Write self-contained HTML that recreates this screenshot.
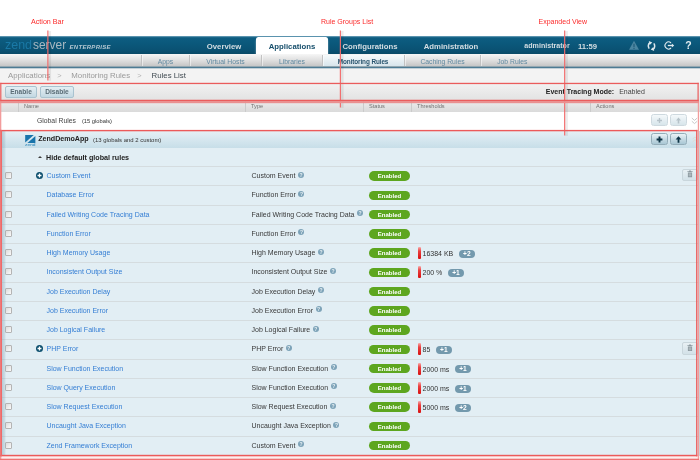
<!DOCTYPE html>
<html lang="en"><head><meta charset="utf-8"><title>Zend Server - Monitoring Rules</title>
<style>
*{box-sizing:border-box;margin:0;padding:0}
html,body{width:700px;height:460px;overflow:hidden;background:#fff}
body{position:relative;font-family:"Liberation Sans",sans-serif;font-size:7px;color:#333;-webkit-font-smoothing:antialiased}
.abs{position:absolute}
.ann{position:absolute;color:#fb2a2a;font-size:7px;top:17.6px;white-space:nowrap;line-height:8px}
.vl{position:absolute;width:1.2px;background:#f36e6e;box-shadow:1.5px 0 1px rgba(200,200,200,.35)}
#hdr{position:absolute;left:0;top:36px;width:700px;height:18.5px;background:linear-gradient(#5a93ae 0,#5a93ae 1px,#0e5d81 1.6px,#0b587b 40%,#0a5172 75%,#094864)}
#logo{position:absolute;left:5px;top:37px;height:16px;line-height:16px;white-space:nowrap}
#logo .z{font-size:13.4px;color:#1a79a6;display:inline-block;transform:scaleX(.93);transform-origin:0 50%;width:26.8px}
#logo .s{font-size:13.4px;color:#a9b9c2;display:inline-block;transform:scaleX(.89);transform-origin:0 50%;width:36.5px;margin-left:1.5px}
#logo .e{font-size:6px;color:#b3c7d2;font-style:italic;font-weight:bold;letter-spacing:0.3px;position:absolute;left:64.5px;top:1.5px}
.tab{position:absolute;top:38px;height:16.5px;line-height:16px;font-size:7.75px;font-weight:bold;color:#d3dde2;text-align:center;white-space:nowrap;line-height:17.6px}
.tab.act{background:#fff;color:#164e6b;border-radius:2.5px 2.5px 0 0;top:37px;height:17.5px;line-height:19.4px;box-shadow:0 2px 2px rgba(255,255,255,.6)}
#sub{position:absolute;left:0;top:54.4px;width:700px;height:12.4px;background:linear-gradient(#f6f6f6,#dedede 50%,#c2c2c2)}
#subl{position:absolute;left:0;top:66px;width:700px;height:3px;background:linear-gradient(#93a7b1 0,#93a7b1 1px,#4d7b93 1px,#4d7b93 2px,#c3d0d7 2px,#c3d0d7 3px);z-index:2}
.sn{position:absolute;top:55px;height:11.6px;line-height:13px;font-size:6.8px;color:#6189a0;text-align:center;white-space:nowrap;border-left:1px solid #c2c2c2;box-shadow:inset 1px 0 0 rgba(255,255,255,.5)}
.sn.act{color:#28546e;font-weight:bold;font-size:6.4px;letter-spacing:-0.1px;text-indent:-1px;background:linear-gradient(#f7fafb,#d5e3ea)}
#bc{position:absolute;left:0;top:68px;width:700px;height:15px;background:#f3f3f3;font-size:7.85px;line-height:15.4px;color:#9a9a9a;white-space:nowrap}
#bc span{position:absolute;top:0}
#act{position:absolute;left:0;top:83px;width:700px;height:18px;background:linear-gradient(#f2f2f2,#e2e2e2)}
.btn{position:absolute;top:86px;height:11.6px;line-height:10.4px;border:1px solid #a9c3d0;border-radius:2px;background:linear-gradient(#e4eff4,#c3d8e2);font-size:6.6px;font-weight:bold;color:#5a6c76;text-align:center}
#etm{position:absolute;left:545.75px;top:86px;line-height:12px;font-size:7px;color:#444;white-space:nowrap}
#etm b{color:#222;margin-right:3px}
#th{position:absolute;left:0;top:101px;width:700px;height:11px;background:linear-gradient(#ececec,#dadada);font-size:5.6px;color:#727272;line-height:10px}
#th span{position:absolute;top:0;height:11px;border-left:1px solid #cbcbcb;padding-left:5px}
#gr{position:absolute;left:0;top:112px;width:700px;height:18.5px;background:#fff;line-height:18px;font-size:6.8px;color:#444;white-space:nowrap}
#gr small{font-size:5.75px;color:#333;margin-left:6px}
#app{position:absolute;left:0;top:131px;width:700px;height:17px;background:linear-gradient(#e6f0f5,#d6e7ef 50%,#c7dee8);line-height:17px;font-size:7px;color:#222;white-space:nowrap}
#app b{position:absolute;left:38.2px;top:0.4px;font-size:7.1px}
#app small{position:absolute;left:93px;top:0.6px;font-size:5.95px;color:#333}
#hide{position:absolute;left:0;top:148px;width:700px;height:18px;background:#e2eef4;line-height:20.6px;font-size:7.17px;font-weight:bold;color:#222}
.rows{position:absolute;left:0;top:0;width:700px}
.row{position:absolute;left:0;width:700px;background:#e2eef4;border-top:1px solid #d5dcdf;white-space:nowrap}
.row>*{position:absolute}
.cb{left:5px;top:5.2px;width:7.4px;height:7px;border:1px solid #b4b4b4;background:linear-gradient(135deg,#dcdcdc,#fafafa);border-radius:1px}
.plus{left:35.8px;top:5px;width:7px;height:7px;line-height:0}
.nm{left:46.5px;top:0;line-height:18.5px;font-size:7px;color:#347ed4}
.tp{left:251.5px;top:0;line-height:18.5px;font-size:7px;color:#383838}
.q{display:inline-block;width:6px;height:6px;border-radius:3px;background:#7da3b8;color:#eaf2f6;font-size:5px;font-style:normal;font-weight:bold;line-height:6px;text-align:center;margin-left:2.6px;position:relative;top:-1.5px}
.en{left:369px;top:4.3px;width:41px;height:9.6px;border-radius:5px;background:#5da61f;color:#fff;font-size:6px;font-weight:bold;text-align:center;line-height:10.6px}
.bar{left:417.5px;top:3px;width:3px;height:12px;background:linear-gradient(#f6abab,#ec4040 35%,#d81010);border-radius:1px}
.th{left:422.5px;top:0;line-height:19px;font-size:7px;color:#333}
.bd{display:inline-block;margin-left:5.5px;height:7.8px;line-height:7.8px;padding:0 4.3px;border-radius:4px;background:#7399ad;color:#fff;font-size:6.6px;font-weight:bold;position:relative;top:-0.3px;vertical-align:middle}
.trash{left:682px;top:2.2px;width:15.5px;height:12.3px;padding-top:0.3px;border:1px solid #c9d6dc;border-radius:2px;background:linear-gradient(#e8f0f4,#d3e1e8);text-align:center;line-height:9px}
.sbtn{position:absolute;width:17px;height:12px;border:1px solid #94adb9;border-radius:2.5px;background:linear-gradient(#e9f2f6,#c4d9e3 55%,#a9c7d4);text-align:center;line-height:0;padding-top:1.9px}
.rb{position:absolute;border:1px solid #ee4545;pointer-events:none}
</style></head>
<body>
<div class="ann" style="left:31px;font-size:7.15px">Action Bar</div>
<div class="ann" style="left:321px">Rule Groups List</div>
<div class="ann" style="left:538.5px">Expanded View</div>
<div id="hdr"></div>
<div id="logo"><span class="z">zend</span><span class="s">server</span><span class="e">ENTERPRISE</span></div>
<div class="tab" style="left:194px;width:60px">Overview</div>
<div class="tab act" style="left:256px;width:72px">Applications</div>
<div class="tab" style="left:330px;width:80px">Configurations</div>
<div class="tab" style="left:411px;width:80px">Administration</div>
<div class="tab" style="left:517px;width:60px;font-size:7.1px;top:37.5px">administrator</div>
<div class="tab" style="left:573.5px;width:28px;font-size:7.7px;top:37.5px">11:59</div>
<div class="abs" style="left:628px;top:40px;line-height:0"><svg width="12" height="11" viewBox="0 0 12 11"><path d="M6 0.8L11 9.8H1Z" fill="#4a85a0"/><path d="M6 3.8v3.4M6 8v1" stroke="#1d5876" stroke-width="1.1"/></svg></div>
<div class="abs" style="left:646px;top:40.5px;line-height:0"><svg width="11" height="10" viewBox="0 0 11 10"><g fill="none" stroke="#dde8ed" stroke-width="1.55"><path d="M3.9 1.7C2.2 2.6 1.7 5.6 3.2 7.6"/><path d="M7.1 8.3C8.8 7.4 9.3 4.4 7.8 2.4"/></g><path d="M2.8 0.1L6.3 1.5L3.7 3.9Z M8.2 9.9L4.7 8.5L7.3 6.1Z" fill="#dde8ed"/></svg></div>
<div class="abs" style="left:663px;top:40px;line-height:0"><svg width="12" height="11" viewBox="0 0 12 11" fill="none" stroke="#e2ebef" stroke-width="1.1"><path d="M8 3A3.5 3.5 0 1 0 8 8"/><path d="M4.8 5.5h5" stroke-width="1.3"/><path d="M8.8 3.6L11.2 5.5L8.8 7.4Z" fill="#e2ebef" stroke="none"/></svg></div>
<div class="abs" style="left:685.2px;top:38.3px;font-size:10.5px;line-height:14px;color:#e4edf1;font-weight:bold">?</div>
<div id="sub"></div><div id="subl"></div>
<div class="sn" style="left:141px;width:48px">Apps</div>
<div class="sn" style="left:189px;width:72px">Virtual Hosts</div>
<div class="sn" style="left:261px;width:61px">Libraries</div>
<div class="sn act" style="left:322px;width:82px">Monitoring Rules</div>
<div class="sn" style="left:404px;width:76px">Caching Rules</div>
<div class="sn" style="left:480px;width:62px;text-align:left;padding-left:16.2px">Job Rules</div>
<div id="bc"><span style="left:8px">Applications</span><span style="left:57.3px;color:#b2b2b2;font-size:7.4px">&gt;</span><span style="left:71.3px">Monitoring Rules</span><span style="left:137.3px;color:#b2b2b2;font-size:7.4px">&gt;</span><span style="left:151.5px;color:#414b52">Rules List</span></div>
<div id="act"></div>
<div class="btn" style="left:5px;width:32px">Enable</div>
<div class="btn" style="left:40px;width:34px">Disable</div>
<div id="etm"><b>Event Tracing Mode:</b> Enabled</div>
<div id="th"><span style="left:18px">Name</span><span style="left:245px">Type</span><span style="left:363px">Status</span><span style="left:411px">Thresholds</span><span style="left:590px">Actions</span></div>
<div id="gr"><span class="abs" style="left:37px;top:0">Global Rules<small>(15 globals)</small></span></div>
<div class="sbtn" style="left:651px;top:114.2px;opacity:.45"><svg width="7" height="7" viewBox="0 0 7 7"><path d="M3.5 1v5M1 3.5h5" stroke="#5e7a88" stroke-width="1.4"/></svg></div>
<div class="sbtn" style="left:670px;top:114.2px;opacity:.45"><svg width="7" height="7" viewBox="0 0 7 7"><path d="M3.5 0.6L6 3.4H4.3V6.4H2.7V3.4H1Z" fill="#5e7a88"/></svg></div>
<div class="abs" style="left:691px;top:117px;line-height:0"><svg width="7" height="8" viewBox="0 0 7 8" fill="none" stroke="#c9c9c9" stroke-width="1"><path d="M0.8 1l2.7 2.4L6.2 1M0.8 4.2l2.7 2.4 2.7-2.4"/></svg></div>
<div id="app"><b>ZendDemoApp</b><small>(13 globals and 2 custom)</small></div>
<div class="abs" style="left:24.8px;top:134.6px;line-height:0"><svg width="11" height="12" viewBox="0 0 11 12"><path d="M0.2 0H8.8L0.2 7.6Z" fill="#1874ab"/><path d="M10.4 1V8H2.4Z" fill="#1874ab"/><text x="0" y="11.2" font-family="Liberation Sans, sans-serif" font-size="4.4" fill="#2a86bb" textLength="10.6" lengthAdjust="spacingAndGlyphs">zend</text></svg></div>
<div class="sbtn" style="left:651px;top:132.8px"><svg width="7" height="7" viewBox="0 0 7 7"><path d="M3.5 0.6v5.8M0.6 3.5h5.8" stroke="#0e3446" stroke-width="1.9"/></svg></div>
<div class="sbtn" style="left:670px;top:132.8px"><svg width="7" height="7" viewBox="0 0 7 7"><path d="M3.5 0.2L6.4 3.4H4.4V6.8H2.6V3.4H0.6Z" fill="#0e3446"/></svg></div>
<div id="hide"><span class="abs" style="left:38.1px;top:8.3px;width:0;height:0;border-left:2px solid transparent;border-right:2px solid transparent;border-bottom:2.8px solid #3a3a3a"></span><span class="abs" style="left:46px;top:0">Hide default global rules</span></div>

<div class="rows">
<div class="row" style="top:166.00px;height:19.25px"><span class="cb"></span><span class="plus"><svg viewBox="0 0 10 10" width="7" height="7"><circle cx="5" cy="5" r="5" fill="#0c4f6e"/><path d="M5 2.2v5.6M2.2 5h5.6" stroke="#fff" stroke-width="1.8"/></svg></span><a class="nm">Custom Event</a><span class="tp">Custom Event<i class="q">?</i></span><span class="en">Enabled</span><span class="trash"><svg viewBox="0 0 8 9" width="6" height="7.6" preserveAspectRatio="none"><path d="M0.5 1.5h7v1h-7zM2.8 0.5h2.4v1h-2.4zM1.2 3h5.6v5.5h-5.6z" fill="#8a979e"/><path d="M2.8 4v3.5M4 4v3.5M5.2 4v3.5" stroke="#dfe8ec" stroke-width="0.5"/></svg></span></div>
<div class="row" style="top:185.25px;height:19.25px"><span class="cb"></span><a class="nm">Database Error</a><span class="tp">Function Error<i class="q">?</i></span><span class="en">Enabled</span></div>
<div class="row" style="top:204.50px;height:19.25px"><span class="cb"></span><a class="nm">Failed Writing Code Tracing Data</a><span class="tp">Failed Writing Code Tracing Data<i class="q">?</i></span><span class="en">Enabled</span></div>
<div class="row" style="top:223.75px;height:19.25px"><span class="cb"></span><a class="nm">Function Error</a><span class="tp">Function Error<i class="q">?</i></span><span class="en">Enabled</span></div>
<div class="row" style="top:243.00px;height:19.25px"><span class="cb"></span><a class="nm">High Memory Usage</a><span class="tp">High Memory Usage<i class="q">?</i></span><span class="en">Enabled</span><span class="bar"></span><span class="th">16384 KB<b class="bd">+2</b></span></div>
<div class="row" style="top:262.25px;height:19.25px"><span class="cb"></span><a class="nm">Inconsistent Output Size</a><span class="tp">Inconsistent Output Size<i class="q">?</i></span><span class="en">Enabled</span><span class="bar"></span><span class="th">200 %<b class="bd">+1</b></span></div>
<div class="row" style="top:281.50px;height:19.25px"><span class="cb"></span><a class="nm">Job Execution Delay</a><span class="tp">Job Execution Delay<i class="q">?</i></span><span class="en">Enabled</span></div>
<div class="row" style="top:300.75px;height:19.25px"><span class="cb"></span><a class="nm">Job Execution Error</a><span class="tp">Job Execution Error<i class="q">?</i></span><span class="en">Enabled</span></div>
<div class="row" style="top:320.00px;height:19.25px"><span class="cb"></span><a class="nm">Job Logical Failure</a><span class="tp">Job Logical Failure<i class="q">?</i></span><span class="en">Enabled</span></div>
<div class="row" style="top:339.25px;height:19.25px"><span class="cb"></span><span class="plus"><svg viewBox="0 0 10 10" width="7" height="7"><circle cx="5" cy="5" r="5" fill="#0c4f6e"/><path d="M5 2.2v5.6M2.2 5h5.6" stroke="#fff" stroke-width="1.8"/></svg></span><a class="nm">PHP Error</a><span class="tp">PHP Error<i class="q">?</i></span><span class="en">Enabled</span><span class="bar"></span><span class="th">85<b class="bd">+1</b></span><span class="trash"><svg viewBox="0 0 8 9" width="6" height="7.6" preserveAspectRatio="none"><path d="M0.5 1.5h7v1h-7zM2.8 0.5h2.4v1h-2.4zM1.2 3h5.6v5.5h-5.6z" fill="#8a979e"/><path d="M2.8 4v3.5M4 4v3.5M5.2 4v3.5" stroke="#dfe8ec" stroke-width="0.5"/></svg></span></div>
<div class="row" style="top:358.50px;height:19.25px"><span class="cb"></span><a class="nm">Slow Function Execution</a><span class="tp">Slow Function Execution<i class="q">?</i></span><span class="en">Enabled</span><span class="bar"></span><span class="th">2000 ms<b class="bd">+1</b></span></div>
<div class="row" style="top:377.75px;height:19.25px"><span class="cb"></span><a class="nm">Slow Query Execution</a><span class="tp">Slow Function Execution<i class="q">?</i></span><span class="en">Enabled</span><span class="bar"></span><span class="th">2000 ms<b class="bd">+1</b></span></div>
<div class="row" style="top:397.00px;height:19.25px"><span class="cb"></span><a class="nm">Slow Request Execution</a><span class="tp">Slow Request Execution<i class="q">?</i></span><span class="en">Enabled</span><span class="bar"></span><span class="th">5000 ms<b class="bd">+2</b></span></div>
<div class="row" style="top:416.25px;height:19.25px"><span class="cb"></span><a class="nm">Uncaught Java Exception</a><span class="tp">Uncaught Java Exception<i class="q">?</i></span><span class="en">Enabled</span></div>
<div class="row" style="top:435.50px;height:19.25px"><span class="cb"></span><a class="nm">Zend Framework Exception</a><span class="tp">Custom Event<i class="q">?</i></span><span class="en">Enabled</span></div>
</div>
<div class="abs" style="left:0;top:456.3px;width:700px;height:4px;background:#fdeeee"></div>
<div class="abs" style="left:2px;top:131px;width:4px;height:324px;background:linear-gradient(to right,rgba(140,168,182,.5),rgba(140,168,182,.25) 70%,rgba(140,168,182,0))"></div>
<div class="abs" style="left:691.5px;top:136px;line-height:0;opacity:.5"><svg width="6" height="7" viewBox="0 0 7 8" fill="none" stroke="#e8c9b5" stroke-width="1"><path d="M0.8 3.4l2.7-2.4L6.2 3.4M0.8 6.6l2.7-2.4 2.7 2.4"/></svg></div>
<svg class="abs" style="left:0;top:0;pointer-events:none;z-index:5" width="700" height="460" viewBox="0 0 700 460">
<rect x="699.1" y="131" width="0.9" height="325" fill="#c3d3da"/>
<g fill="#000" opacity=".07"><rect x="48.5" y="31" width="2.6" height="49.8"/><rect x="341" y="31" width="2.6" height="76.8"/><rect x="565.3" y="31" width="2.6" height="104.8"/></g>
<g fill="#f26a6a"><rect x="47.3" y="30.5" width="1.15" height="50"/><rect x="339.8" y="30.5" width="1.15" height="77"/><rect x="564.1" y="30.5" width="1.15" height="105"/></g>
<g fill="#f29c9c"><rect x="0" y="101.1" width="1.3" height="358.9"/><rect x="697.8" y="101.1" width="1.3" height="358.9"/></g>
<rect x="0" y="101.1" width="699.1" height="2.1" fill="#ea9090"/>
<rect x="0" y="458.7" width="699.1" height="1.3" fill="#ee7272"/>
<g fill="#ea5c5c"><rect x="0.2" y="82.8" width="698.5" height="1.3"/><rect x="0.2" y="99.75" width="698.5" height="1.35"/><rect x="0.2" y="82.8" width="1.2" height="18.3"/><rect x="697.5" y="82.8" width="1.2" height="18.3"/></g>
<g fill="#ec5a5a"><rect x="0.3" y="129.9" width="697.1" height="1.4"/><rect x="0.3" y="454.8" width="697.1" height="1.5"/><rect x="0.3" y="129.9" width="1.7" height="326.4" fill="#ee6a6a"/><rect x="696.1" y="129.9" width="1.3" height="326.4"/></g>
</svg>

</body></html>
